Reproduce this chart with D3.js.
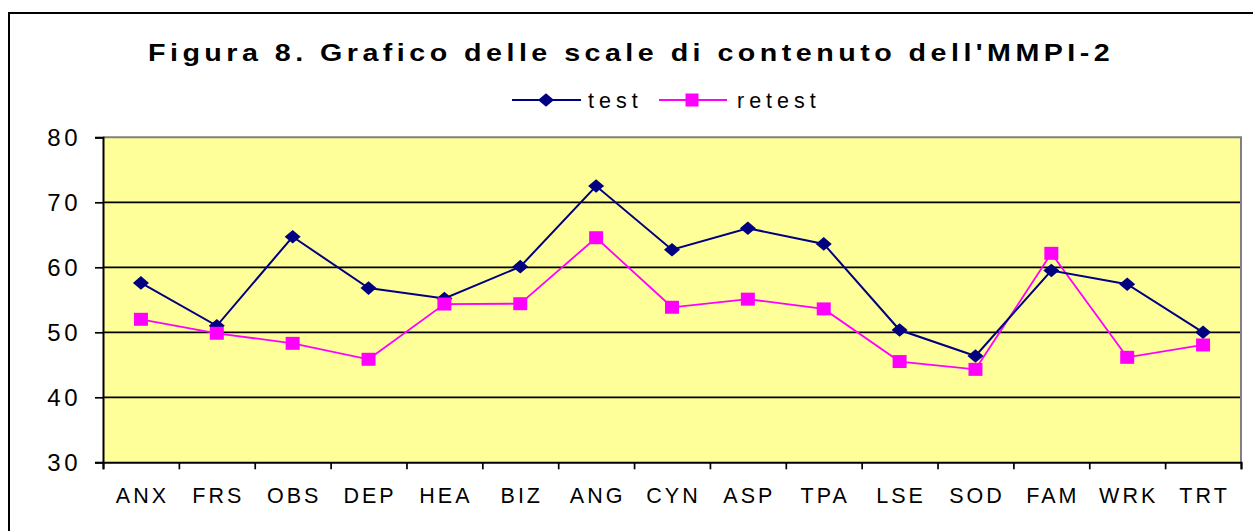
<!DOCTYPE html>
<html>
<head>
<meta charset="utf-8">
<script src="https://cdn.jsdelivr.net/npm/d3@7/dist/d3.min.js"></script>
<style>
  html, body { margin: 0; padding: 0; background: #fff; }
  svg { display: block; font-family: "Liberation Sans", Arial, sans-serif; }
</style>
</head>
<body>
<svg id="chart" width="1253" height="531"></svg>
<script>
const categories = ["ANX","FRS","OBS","DEP","HEA","BIZ","ANG","CYN","ASP","TPA","LSE","SOD","FAM","WRK","TRT"];
const testValues   = [57.6, 51.0, 64.7, 56.8, 55.2, 60.1, 72.5, 62.7, 66.0, 63.6, 50.35, 46.35, 59.5, 57.4, 50.0];
const retestValues = [52.0, 49.85, 48.3, 45.85, 54.35, 54.4, 64.55, 53.85, 55.1, 53.6, 45.5, 44.3, 62.15, 46.15, 48.05];
const yTicks = [30, 40, 50, 60, 70, 80];
const seriesNames = ["test", "retest"];
const titleText = "Figura 8. Grafico delle scale di contenuto dell'MMPI-2";

const svg = d3.select("#chart");
const plot = { left: 103, right: 1241, top: 137.3, bottom: 462.3 };

// outer frame
svg.append("rect").attr("x", 9).attr("y", 13).attr("width", 1300).attr("height", 600)
  .attr("fill", "#fff").attr("stroke", "#000").attr("stroke-width", 2);

const x = d3.scaleBand().domain(categories).range([plot.left, plot.right]).padding(0);
const xIdx = d3.scaleLinear().domain([0, categories.length]).range([plot.left, plot.right]);
const y = d3.scaleLinear().domain([30, 80]).range([plot.bottom, plot.top]);
const cx = d => x(d) + x.bandwidth() / 2;

// plot background
svg.append("rect").attr("x", plot.left).attr("y", plot.top)
  .attr("width", plot.right - plot.left).attr("height", plot.bottom - plot.top)
  .attr("fill", "#FFFF99");

// gridlines
svg.append("g").selectAll("line").data(yTicks.filter(v => v > 30 && v < 80)).join("line")
  .attr("x1", plot.left).attr("x2", plot.right)
  .attr("y1", d => y(d)).attr("y2", d => y(d))
  .attr("stroke", "#000").attr("stroke-width", 1.7);

// top and right border grey
svg.append("path")
  .attr("d", `M${plot.left},${y(80)}H${plot.right}V${plot.bottom}`)
  .attr("fill", "none").attr("stroke", "#808080").attr("stroke-width", 2);

// y axis
const yAxis = svg.append("g").attr("transform", `translate(${plot.left},0)`)
  .call(d3.axisLeft(y).tickValues(yTicks).tickSize(8).tickPadding(14).tickFormat(d3.format("d")));
yAxis.select(".domain").attr("stroke", "#000").attr("stroke-width", 2);
yAxis.selectAll(".tick line").attr("stroke", "#000").attr("stroke-width", 1.7);
yAxis.selectAll(".tick text").attr("fill", "#000").style("font-size", "24px")
  .style("letter-spacing", "3.5px").attr("dy", "0.36em")
  .style("font-family", "'Liberation Sans', Arial, sans-serif");

// x axis: boundary ticks
const xTickAxis = svg.append("g").attr("transform", `translate(0,${plot.bottom})`)
  .call(d3.axisBottom(xIdx).tickValues(d3.range(0, categories.length + 1)).tickSize(7).tickFormat(""));
xTickAxis.select(".domain").attr("stroke", "#000").attr("stroke-width", 2);
xTickAxis.selectAll(".tick line").attr("stroke", "#000").attr("stroke-width", 1.7);

// x labels
const xLab = svg.append("g").attr("transform", `translate(0,${plot.bottom})`)
  .call(d3.axisBottom(x).tickSize(0).tickPadding(0));
xLab.select(".domain").remove();
xLab.selectAll(".tick text").attr("fill", "#000").attr("y", 41).attr("dy", 0).attr("dx", "1.5px")
  .style("font-size", "21.5px").style("letter-spacing", "3px")
  .style("font-family", "'Liberation Sans', Arial, sans-serif");

// lines
const colors = { test: "#000080", retest: "#FF00FF" };
const line = d3.line().x(d => cx(d.c)).y(d => y(d.v));
const testData = categories.map((c, i) => ({ c, v: testValues[i] }));
const retestData = categories.map((c, i) => ({ c, v: retestValues[i] }));

const diamond = "M0,-6.8L8,0L0,6.8L-8,0Z";
const square = "M-7,-6.5H7V6.5H-7Z";

svg.append("path").datum(retestData).attr("d", line)
  .attr("fill", "none").attr("stroke", colors.retest).attr("stroke-width", 1.8);
svg.append("path").datum(testData).attr("d", line)
  .attr("fill", "none").attr("stroke", colors.test).attr("stroke-width", 2);

svg.append("g").selectAll("path").data(testData).join("path")
  .attr("d", diamond).attr("fill", colors.test)
  .attr("transform", d => `translate(${cx(d.c)},${y(d.v)})`);
svg.append("g").selectAll("path").data(retestData).join("path")
  .attr("d", square).attr("fill", colors.retest)
  .attr("transform", d => `translate(${cx(d.c)},${y(d.v)})`);

// title (horizontally stretched like the source rendering)
const stretch = 1.22;
const title = svg.append("text").attr("x", 0).attr("y", 0)
  .attr("text-anchor", "start").style("font-weight", "bold").style("font-size", "23.5px")
  .attr("fill", "#000").text(titleText);
const natural = title.node().getComputedTextLength();
const targetW = 962 / stretch;
const ls = (targetW - natural) / (titleText.length - 1);
title.style("letter-spacing", ls + "px");
title.attr("transform", `translate(${629 - 962 / 2},61) scale(${stretch},1)`);

// legend
const legend = svg.append("g");
const leg = [
  { name: seriesNames[0], x1: 512, x2: 581, mx: 546, tx: 588, shape: diamond, color: colors.test, sw: 2 },
  { name: seriesNames[1], x1: 659, x2: 727, mx: 692, tx: 737, shape: "M-6.5,-6.5H6.5V6.5H-6.5Z", color: colors.retest, sw: 1.8 }
];
leg.forEach(l => {
  legend.append("line").attr("x1", l.x1).attr("x2", l.x2).attr("y1", 100).attr("y2", 100)
    .attr("stroke", l.color).attr("stroke-width", l.sw);
  legend.append("path").attr("d", l.shape).attr("fill", l.color)
    .attr("transform", `translate(${l.mx},100)`);
  legend.append("text").attr("x", l.tx).attr("y", 108).style("font-size", "21.5px")
    .style("letter-spacing", "5px").attr("fill", "#000").text(l.name);
});
</script>
</body>
</html>
